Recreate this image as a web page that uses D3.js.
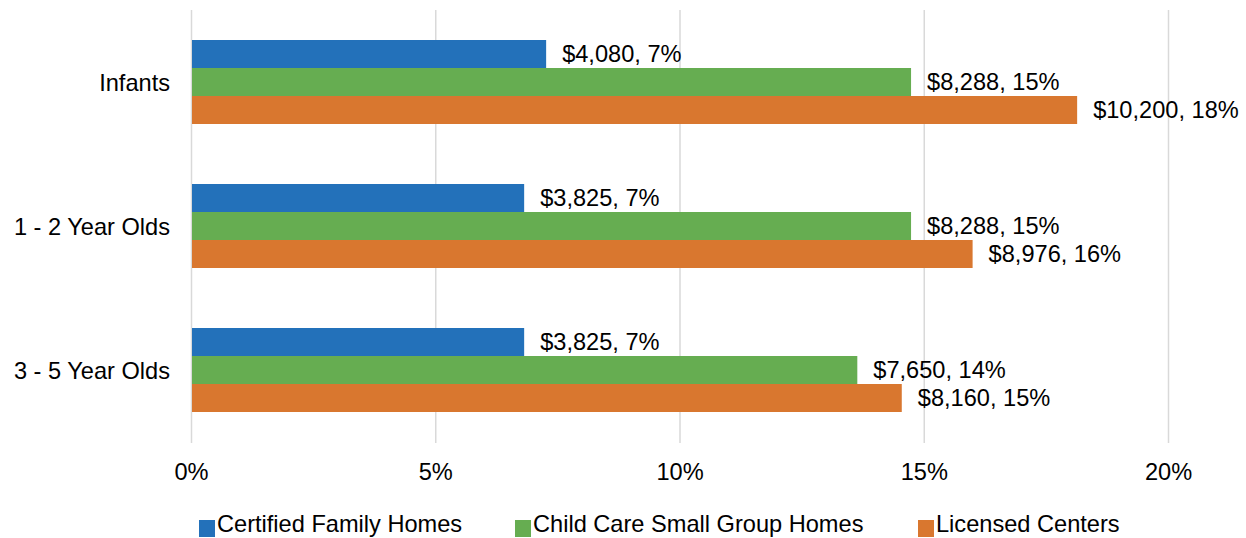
<!DOCTYPE html>
<html>
<head>
<meta charset="utf-8">
<script src="https://cdn.jsdelivr.net/npm/d3@7"></script>
<style>
  body { margin: 0; background: #fff; }
  text { font-family: "Liberation Sans", Arial, sans-serif; fill: #000; }
</style>
</head>
<body>
<script>
var categories = ["Infants", "1 - 2 Year Olds", "3 - 5 Year Olds"];
var seriesNames = ["Certified Family Homes", "Child Care Small Group Homes", "Licensed Centers"];
var colors = ["#2371BA", "#66AD51", "#D9772F"];
// percent of income
var familyPct = [7.27, 6.82, 6.82];
var smallGroupPct = [14.74, 14.74, 13.64];
var centersPct = [18.14, 16.0, 14.55];
// yearly cost in dollars (label text)
var familyCost = [4080, 3825, 3825];
var smallGroupCost = [8288, 8288, 7650];
var centersCost = [10200, 8976, 8160];
var xTicks = [0, 5, 10, 15, 20];

var W = 1246, H = 538, fs = 23.6;
var pct = [familyPct, smallGroupPct, centersPct];
var cost = [familyCost, smallGroupCost, centersCost];

var rows = [];
categories.forEach(function(c, i) {
    seriesNames.forEach(function(s, j) {
        rows.push({cat: c, series: s, k: j, pct: pct[j][i], cost: cost[j][i]});
    });
});

var svg = d3.select("body").append("svg").attr("width", W).attr("height", H);

var x = d3.scaleLinear().domain([0, 20]).range([191, 1168]);
var y = d3.scaleBand().domain(categories).range([10, 442])
    .paddingInner(60 / 144).paddingOuter(30 / 144);
var y1 = d3.scaleBand().domain(seriesNames).range([0, y.bandwidth()]);

// grid + tick labels
var gx = svg.append("g")
    .attr("transform", "translate(0,443)")
    .call(d3.axisBottom(x).tickValues(xTicks).tickSize(-433)
        .tickFormat(function(d) { return d + "%"; }));
gx.select(".domain").remove();
gx.selectAll(".tick line").attr("stroke", "#d9d9d9").attr("stroke-width", 1.5);
gx.selectAll(".tick text").attr("y", 37).attr("dy", null)
    .attr("font-size", fs).attr("font-family", null).attr("fill", "#000");

// category labels
var gy = svg.append("g")
    .attr("transform", "translate(191,0)")
    .call(d3.axisLeft(y).tickSize(0).tickPadding(21));
gy.select(".domain").remove();
gy.selectAll(".tick text").attr("dy", "0.36em")
    .attr("font-size", fs).attr("font-family", null).attr("fill", "#000");

// bars
svg.append("g").selectAll("rect")
    .data(rows)
    .enter()
    .append("rect")
    .attr("x", x(0) + 1)
    .attr("y", function(d) { return y(d.cat) + y1(d.series); })
    .attr("width", function(d) { return x(d.pct) - x(0) - 1; })
    .attr("height", y1.bandwidth())
    .attr("fill", function(d) { return colors[d.k]; });

// value labels
var money = d3.format("$,");
svg.append("g").selectAll("text")
    .data(rows)
    .enter()
    .append("text")
    .attr("x", function(d) { return x(d.pct) + 16; })
    .attr("y", function(d) { return y(d.cat) + y1(d.series) + y1.bandwidth() / 2; })
    .attr("dy", "0.36em")
    .attr("font-size", fs)
    .text(function(d) { return money(d.cost) + ", " + Math.round(d.pct) + "%"; });

// legend
var legendX = [199, 515, 918];
var lg = svg.append("g").selectAll("g")
    .data(seriesNames)
    .enter()
    .append("g")
    .attr("transform", function(d, i) { return "translate(" + legendX[i] + ",0)"; });
lg.append("rect")
    .attr("x", 0).attr("y", 520).attr("width", 16).attr("height", 17)
    .attr("fill", function(d, i) { return colors[i]; });
lg.append("text")
    .attr("x", 18).attr("y", 532)
    .attr("font-size", fs)
    .text(function(d) { return d; });
</script>
</body>
</html>
